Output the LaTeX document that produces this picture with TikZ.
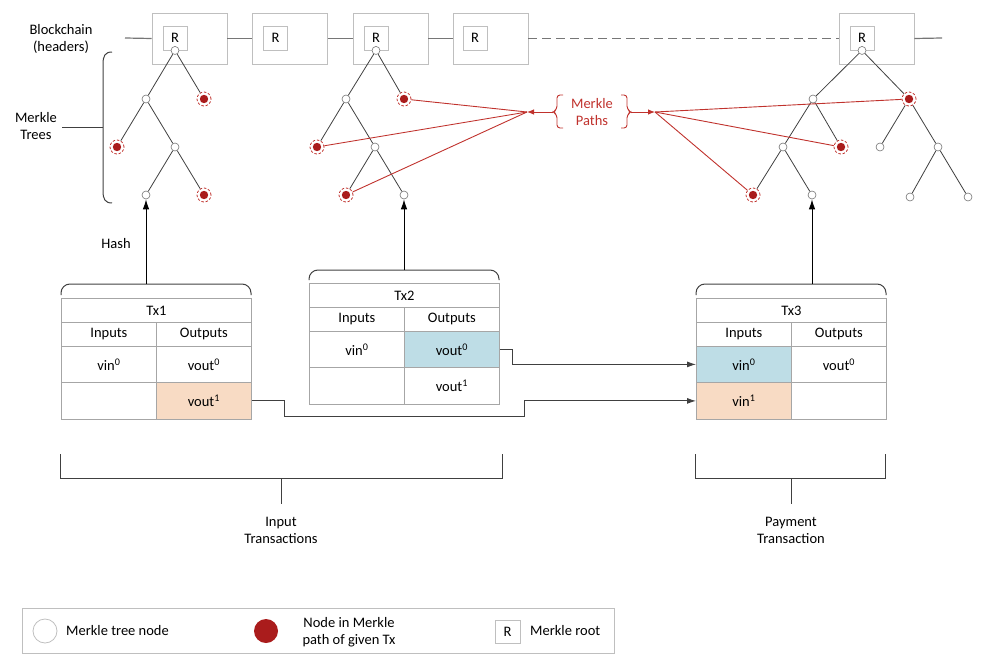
\documentclass[tikz,border=0pt]{standalone}
\usepackage{fontspec}
\setmainfont{Carlito}
\usetikzlibrary{arrows.meta,calc}
\definecolor{mred}{RGB}{170,28,28}
\definecolor{pred}{RGB}{192,50,45}
\definecolor{tgray}{RGB}{166,166,166}
\definecolor{bgray}{RGB}{191,191,191}
\definecolor{cgray}{RGB}{118,118,118}
\definecolor{lgray}{RGB}{64,64,64}
\definecolor{cblue}{RGB}{190,221,230}
\definecolor{cpeach}{RGB}{248,219,196}
\newcommand\fs{\fontsize{14.5}{17}\selectfont}
\begin{document}
\begin{tikzpicture}[x=1pt,y=-1pt,font=\fs,
 hdr/.style={draw=bgray,line width=0.9pt,minimum width=75pt,minimum height=51pt,inner sep=0pt},
 rbox/.style={draw=bgray,line width=0.9pt,fill=white,minimum size=24pt,inner sep=0pt},
 wn/.style={circle,draw=cgray,fill=white,line width=0.6pt,minimum size=8pt,inner sep=0pt},
 rn/.style={circle,draw=pred,dash pattern=on 2.5pt off 1.8pt,line width=0.8pt,minimum size=14pt,inner sep=0pt,
   path picture={\fill[mred] (path picture bounding box.center) circle[radius=4.2pt];}},
 tedge/.style={draw=lgray,line width=0.8pt},
 pline/.style={draw=pred,line width=0.9pt},
 chain/.style={draw=cgray,line width=1.2pt},
 brc/.style={draw=lgray,line width=1pt},
 cell/.style={draw=tgray,line width=0.8pt,inner sep=0pt,anchor=north west,minimum width=95pt},
 ttl/.style={draw=tgray,line width=0.8pt,inner sep=0pt,anchor=north west,minimum width=190pt,minimum height=24pt},
 conn/.style={draw=lgray,line width=0.9pt,-{Latex[length=9pt,width=6pt]}},
 harrow/.style={draw=black,line width=1pt,-{Latex[length=10pt,width=6.5pt]}}
]
\useasboundingbox (0,0) rectangle (1000,666);

% ---------- blockchain headers ----------
\node at (61,38.5) [align=center] (bclab) {Blockchain\\(headers)};
\node[hdr] (h1) at (189.5,38.5) {};
\node[hdr] (h2) at (290,38.5) {};
\node[hdr] (h3) at (390.5,38.5) {};
\node[hdr] (h4) at (490.5,38.5) {};
\node[hdr] (h5) at (876.5,38.5) {};
\coordinate (cl) at (125,38);
\coordinate (cr) at (942,38);
\draw[chain] (cl) -- (h1.west);
\draw[chain] (h1.east) -- (h2.west);
\draw[chain] (h2.east) -- (h3.west);
\draw[chain] (h3.east) -- (h4.west);
\draw[chain,dash pattern=on 9pt off 5pt] (h4.east) -- (h5.west);
\draw[chain] (h5.east) -- (cr);
\node[rbox] (R1) at (175,38) {R};
\node[rbox] (R2) at (275.5,38) {R};
\node[rbox] (R3) at (376,38) {R};
\node[rbox] (R4) at (475,38) {R};
\node[rbox] (R5) at (862,38) {R};

% ---------- Merkle Trees label and brace ----------
\node[align=center] (mtlab) at (36,126) {Merkle\\Trees};
\coordinate (mt0) at (62,127);
\coordinate (mt1) at (103,127);
\draw[brc] (mt0) -- (mt1);
\draw[brc] (112,52) .. controls (105,52) and (103,56) .. (103,64) -- (103,191) .. controls (103,199) and (105,203) .. (112,203);

% ---------- tree 1 ----------
\node[wn] (ar) at (R1.south) {};
\node[wn] (al) at (146,99) {};
\node[rn] (ap1) at (204,99) {};
\node[rn] (ap2) at (117,147) {};
\node[wn] (am) at (175,147) {};
\node[wn] (aleaf) at (146,195) {};
\node[rn] (ap3) at (204,195) {};
\draw[tedge] (ar) -- (al);
\draw[tedge] (ar) -- (ap1);
\draw[tedge] (al) -- (ap2);
\draw[tedge] (al) -- (am);
\draw[tedge] (am) -- (aleaf);
\draw[tedge] (am) -- (ap3);

% ---------- tree 2 ----------
\node[wn] (br) at (R3.south) {};
\node[wn] (bl) at (346,99) {};
\node[rn] (bp1) at (404,99) {};
\node[rn] (bp2) at (317,147) {};
\node[wn] (bm) at (375,147) {};
\node[rn] (bp3) at (346,195) {};
\node[wn] (bleaf) at (404,195) {};
\draw[tedge] (br) -- (bl);
\draw[tedge] (br) -- (bp1);
\draw[tedge] (bl) -- (bp2);
\draw[tedge] (bl) -- (bm);
\draw[tedge] (bm) -- (bp3);
\draw[tedge] (bm) -- (bleaf);

% ---------- tree 3 ----------
\node[wn] (cr0) at (R5.south) {};
\node[wn] (cl0) at (813,99) {};
\node[rn] (cp1) at (909,99) {};
\node[wn] (cm) at (783,147) {};
\node[rn] (cp2) at (841,147) {};
\node[rn] (cp3) at (753,195) {};
\node[wn] (cleaf) at (812,195) {};
\node[wn] (cx1) at (880,147) {};
\node[wn] (cx2) at (938,147) {};
\node[wn] (cx3) at (910,197) {};
\node[wn] (cx4) at (968,197) {};
\draw[tedge] (cr0) -- (cl0);
\draw[tedge] (cr0) -- (cp1);
\draw[tedge] (cl0) -- (cm);
\draw[tedge] (cl0) -- (cp2);
\draw[tedge] (cm) -- (cp3);
\draw[tedge] (cm) -- (cleaf);
\draw[tedge] (cp1) -- (cx1);
\draw[tedge] (cp1) -- (cx2);
\draw[tedge] (cx2) -- (cx3);
\draw[tedge] (cx2) -- (cx4);

% ---------- Merkle paths ----------
\node[text=pred,align=center] (mp) at (592,112) {Merkle\\Paths};
\draw[pline,rounded corners=3pt] (563,95) -- (557,95) -- (557,109) -- (553,112) -- (557,115) -- (557,128) -- (563,128);
\draw[pline,rounded corners=3pt] (621,95) -- (627,95) -- (627,109) -- (631,112) -- (627,115) -- (627,128) -- (621,128);
\coordinate (lf) at (527,112);
\coordinate (lb) at (553,112);
\coordinate (rb) at (631,112);
\coordinate (rf) at (655,112);
\draw[pline,-{Latex[length=7pt,width=5.5pt]}] (lb) -- (lf);
\draw[pline,-{Latex[length=7pt,width=5.5pt]}] (rb) -- (rf);
\draw[pline] (lf) -- (bp1);
\draw[pline] (lf) -- (bp2);
\draw[pline] (lf) -- (bp3);
\draw[pline] (rf) -- (cp1);
\draw[pline] (rf) -- (cp2);
\draw[pline] (rf) -- (cp3);

% ---------- Tx1 ----------
\node[ttl] (t1t) at (61,298) {Tx1};
\node[cell,minimum height=24pt] (t1i) at (61,322) {Inputs};
\node[cell,minimum height=24pt] (t1o) at (156,322) {Outputs};
\node[cell,minimum height=36pt] (t1a) at (61,346) {vin\textsuperscript{0}};
\node[cell,minimum height=36pt] (t1b) at (156,346) {vout\textsuperscript{0}};
\node[cell,minimum height=37pt] (t1c) at (61,382) {};
\node[cell,minimum height=37pt,fill=cpeach] (t1d) at (156,382) {vout\textsuperscript{1}};

% ---------- Tx2 ----------
\node[ttl] (t2t) at (309,283) {Tx2};
\node[cell,minimum height=24pt] (t2i) at (309,307) {Inputs};
\node[cell,minimum height=24pt] (t2o) at (404,307) {Outputs};
\node[cell,minimum height=36pt] (t2a) at (309,331) {vin\textsuperscript{0}};
\node[cell,minimum height=36pt,fill=cblue] (t2b) at (404,331) {vout\textsuperscript{0}};
\node[cell,minimum height=37pt] (t2c) at (309,367) {};
\node[cell,minimum height=37pt] (t2d) at (404,367) {vout\textsuperscript{1}};

% ---------- Tx3 ----------
\node[ttl] (t3t) at (696,298) {Tx3};
\node[cell,minimum height=24pt] (t3i) at (696,322) {Inputs};
\node[cell,minimum height=24pt] (t3o) at (791,322) {Outputs};
\node[cell,minimum height=36pt,fill=cblue] (t3a) at (696,346) {vin\textsuperscript{0}};
\node[cell,minimum height=36pt] (t3b) at (791,346) {vout\textsuperscript{0}};
\node[cell,minimum height=37pt,fill=cpeach] (t3c) at (696,382) {vin\textsuperscript{1}};
\node[cell,minimum height=37pt] (t3d) at (791,382) {};

% ---------- braces over tables and hash arrows ----------
\draw[brc,rounded corners=9pt] (61,295) |- (156,284) -| (251,295);
\draw[brc,rounded corners=9pt] (309,280) |- (404,270) -| (499,280);
\draw[brc,rounded corners=9pt] (696,295) |- (791,284) -| (886,295);
\coordinate (s1) at (146,284);
\coordinate (s2) at (404,270);
\coordinate (s3) at (812,284);
\draw[harrow] (s1) -- (aleaf);
\draw[harrow] (s2) -- (bleaf);
\draw[harrow] (s3) -- (cleaf);
\node (hash) at (116,244) {Hash};

% ---------- transaction connectors ----------
\coordinate (j1) at (524,416);
\draw[conn] (t1d.east) -- ++(33,0) |- (j1) |- (t3c.west);
\draw[conn] (t2b.east) -- ++(13,0) |- (t3a.west);

% ---------- bottom brackets ----------
\draw[brc] (60,454) |- (502,478) -- (502,454);
\coordinate (ib0) at (281,478);
\coordinate (ib1) at (281,504);
\draw[brc] (ib0) -- (ib1);
\node[align=center] (itlab) at (281,530) {Input\\Transactions};
\draw[brc] (695,454) |- (885,478) -- (885,454);
\coordinate (pb0) at (791,478);
\coordinate (pb1) at (791,504);
\draw[brc] (pb0) -- (pb1);
\node[align=center] (ptlab) at (791,530) {Payment\\Transaction};

% ---------- legend ----------
\node[draw=bgray,line width=1pt,minimum width=592pt,minimum height=45pt,inner sep=0pt] (leg) at (318,630.5) {};
\node[circle,draw=bgray,line width=0.8pt,minimum size=24pt,inner sep=0pt] (lw) at (45,631) {};
\node[anchor=west,inner sep=0pt] (lwt) at (66,631) {Merkle tree node};
\node[circle,fill=mred,minimum size=24pt,inner sep=0pt] (lr) at (266,631) {};
\node[align=center] (lrt) at (349,632) {Node in Merkle\\path of given Tx};
\node[draw=bgray,line width=0.8pt,minimum width=25pt,minimum height=23pt,inner sep=0pt] (lR) at (507.5,631.5) {R};
\node[anchor=west,inner sep=0pt] (lRt) at (530,631) {Merkle root};
\end{tikzpicture}
\end{document}
